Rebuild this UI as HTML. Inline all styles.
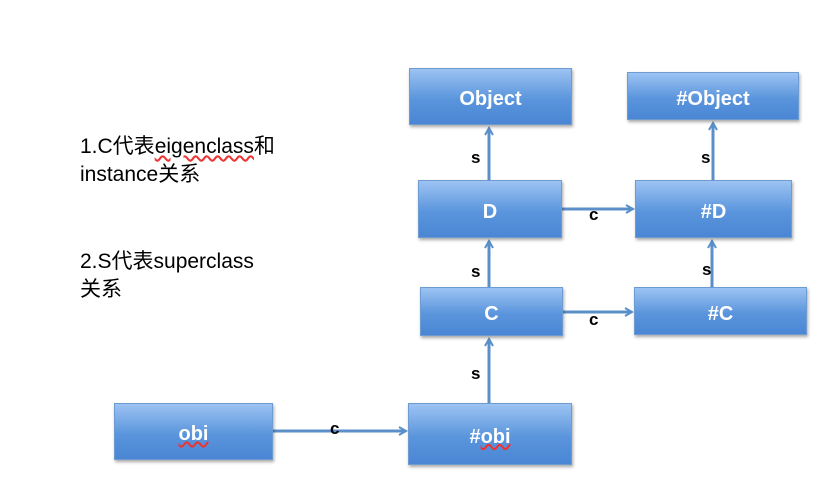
<!DOCTYPE html>
<html><head><meta charset="utf-8"><style>
body{margin:0;width:825px;height:500px;background:#fff;position:relative;overflow:hidden;font-family:"Liberation Sans","Noto Sans CJK SC",sans-serif}
.b{position:absolute;background:linear-gradient(#9cc3f3,#5a95dc 55%,#4a86d4);border:1px solid #6e9bd0;box-shadow:1px 2px 3px rgba(0,0,0,.35);color:#fff;font-weight:bold;font-size:20px;display:flex;align-items:center;justify-content:center;box-sizing:border-box;padding-top:6px}
.t{position:absolute;font-size:21px;color:#000;line-height:28px}
.l{position:absolute;font-weight:bold;font-size:17px;color:#000}
</style></head><body>
<div class="t" style="left:80px;top:133px">1.C代表<span style="text-decoration:underline wavy #e33">eigenclass</span>和<br>instance关系</div>
<div class="t" style="left:80px;top:248px">2.S代表superclass<br>关系</div>
<svg width="825" height="500" style="position:absolute;left:0;top:0">
<defs><marker id="a" markerWidth="10" markerHeight="10" refX="8" refY="5" orient="auto" markerUnits="userSpaceOnUse"><path d="M1,1 L8,5 L1,9" fill="none" stroke="#5b8fc9" stroke-width="2"/></marker></defs>
<g stroke="#5b8fc9" stroke-width="3" marker-end="url(#a)">
<line x1="489" y1="180" x2="489" y2="128"/>
<line x1="713" y1="180" x2="713" y2="123"/>
<line x1="562" y1="209" x2="633" y2="209"/>
<line x1="563" y1="312" x2="632" y2="312"/>
<line x1="489" y1="287" x2="489" y2="241"/>
<line x1="712" y1="287" x2="712" y2="241"/>
<line x1="489" y1="403" x2="489" y2="339"/>
<line x1="273" y1="431" x2="406" y2="431"/>
</g></svg>
<div class="b" style="left:409px;top:68px;width:163px;height:57px">Object</div>
<div class="b" style="left:627px;top:72px;width:172px;height:48px">#Object</div>
<div class="b" style="left:418px;top:180px;width:144px;height:58px">D</div>
<div class="b" style="left:635px;top:180px;width:157px;height:58px">#D</div>
<div class="b" style="left:420px;top:287px;width:143px;height:49px">C</div>
<div class="b" style="left:634px;top:287px;width:173px;height:48px">#C</div>
<div class="b" style="left:114px;top:403px;width:159px;height:57px"><span style="text-decoration:underline wavy #e33">obi</span></div>
<div class="b" style="left:408px;top:403px;width:164px;height:62px">#<span style="text-decoration:underline wavy #e33">obi</span></div>
<div class="l" style="left:471px;top:148px">s</div>
<div class="l" style="left:701px;top:148px">s</div>
<div class="l" style="left:589px;top:205px">c</div>
<div class="l" style="left:471px;top:262px">s</div>
<div class="l" style="left:702px;top:260px">s</div>
<div class="l" style="left:589px;top:310px">c</div>
<div class="l" style="left:471px;top:364px">s</div>
<div class="l" style="left:330px;top:419px">c</div>
</body></html>
